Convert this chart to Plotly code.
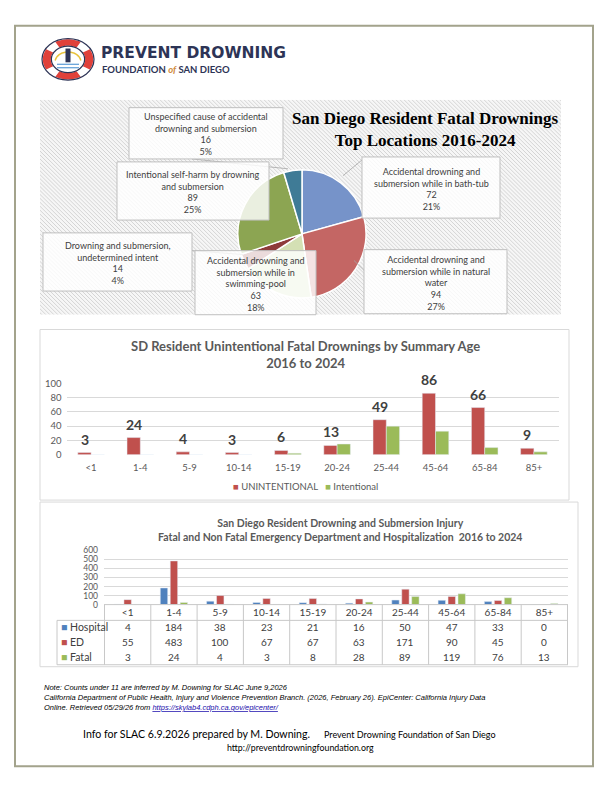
import base64
import numpy as np
import plotly.graph_objects as go

# the page body has an 8px margin, so the figure is 8px smaller and page
# coordinates are shifted by 8 when converted to paper units
PAD = 8
FW, FH = 612 - PAD, 792 - PAD

# ---- pie: top locations 2016-2024 ----
pie_labels = [
    "Accidental drowning and<br>submersion while in bath-tub",
    "Accidental drowning and<br>submersion while in natural<br>water",
    "Accidental drowning and<br>submersion while in<br>swimming-pool",
    "Drowning and submersion,<br>undetermined intent",
    "Intentional self-harm by drowning<br>and submersion",
    "Unspecified cause of accidental<br>drowning and submersion",
]
pie_values = [72, 94, 63, 14, 89, 16]
pie_pct = ["21%", "27%", "18%", "4%", "25%", "5%"]

# ---- bars: unintentional fatal drownings by age ----
age_groups = ["<1", "1-4", "5-9", "10-14", "15-19", "20-24", "25-44", "45-64", "65-84", "85+"]
unintentional = [3, 24, 4, 3, 6, 13, 49, 86, 66, 9]
intentional = [0, 0, 0, 0, 2, 15, 40, 33, 10, 4]

# ---- bars + table: injury by age ----
hospital = [4, 184, 38, 23, 21, 16, 50, 47, 33, 0]
ed = [55, 483, 100, 67, 67, 63, 171, 90, 45, 0]
fatal = [3, 24, 4, 3, 8, 28, 89, 119, 76, 13]

BLUE, RED, GREEN = "#4f81bd", "#c0504d", "#9bbb59"
GRID = "#d9d9d9"
FONT = "Lato"


def X(x):
    return (x - PAD) / FW


def Y(y):
    return 1 - (y - PAD) / FH


def rect(x0, y0, x1, y1, **kw):
    return dict(type="rect", xref="paper", yref="paper",
                x0=X(x0), x1=X(x1), y0=Y(y1), y1=Y(y0), **kw)


def seg(x0, y0, x1, y1, color="#a6a6a6", width=0.8):
    return dict(type="line", xref="paper", yref="paper",
                x0=X(x0), x1=X(x1), y0=Y(y0), y1=Y(y1),
                line=dict(color=color, width=width))


def text(x, y, s, size=9, color="#404040", anchor="center", family=FONT):
    return dict(x=X(x), y=Y(y), xref="paper", yref="paper", text=s,
                showarrow=False, xanchor=anchor, yanchor="middle",
                font=dict(size=size, color=color, family=family))


fig = go.Figure()

# pie
pie_colors = ["#7693c9", "#c46664", "#d4e0b4", "#8e3b3a", "#8ca552", "#3f7b96"]
fig.add_trace(go.Pie(
    labels=[l.replace("<br>", " ") for l in pie_labels], values=pie_values,
    sort=False, direction="clockwise", rotation=0,
    marker=dict(colors=pie_colors, line=dict(color="white", width=1.5)),
    textinfo="none", showlegend=False,
    domain=dict(x=[X(237), X(367)], y=[Y(296), Y(166)]),
))

# chart 2
fig.add_trace(go.Bar(
    x=age_groups, y=unintentional, name="UNINTENTIONAL", marker_color=RED,
    width=0.27, offset=-0.27, xaxis="x", yaxis="y",
))
fig.add_trace(go.Bar(
    x=age_groups, y=intentional, name="Intentional", marker_color=GREEN,
    width=0.27, offset=0, xaxis="x", yaxis="y",
))

# chart 3
for vals, name, col, off in [(hospital, "Hospital", BLUE, -0.295),
                             (ed, "ED", RED, -0.08),
                             (fatal, "Fatal", GREEN, 0.135)]:
    fig.add_trace(go.Bar(x=age_groups, y=vals, name=name, marker_color=col,
                         width=0.16, offset=off, xaxis="x2", yaxis="y2"))

shapes = []
annotations = []

# page border
shapes.append(rect(15, 20, 593, 771, line=dict(color="#a3a38c", width=2)))

# logo ring
cx, cy, rx, ry = 68, 54, 26, 21


def ring_path(a0, a1, k_out, k_in, n=24):
    t = np.radians(np.linspace(a0, a1, n))
    xs = np.concatenate([cx + rx * k_out * np.cos(t), cx + rx * k_in * np.cos(t[::-1])])
    ys = np.concatenate([cy - ry * k_out * np.sin(t), cy - ry * k_in * np.sin(t[::-1])])
    return "M" + " L".join(f"{X(a):.5f},{Y(b):.5f}" for a, b in zip(xs, ys)) + " Z"


for c in (90, 0, 180, 270):
    shapes.append(dict(type="path", xref="paper", yref="paper",
                       path=ring_path(c - 30, c + 30, 0.97, 0.66),
                       fillcolor="#e0413a", line=dict(width=0)))
for k in (1.0, 0.64):
    shapes.append(dict(type="circle", xref="paper", yref="paper",
                       x0=X(cx - rx * k), x1=X(cx + rx * k),
                       y0=Y(cy + ry * k), y1=Y(cy - ry * k),
                       line=dict(color="#2d3456", width=1.2)))
t = np.radians(np.linspace(10, 170, 20))
arc = "M" + " L".join(f"{X(cx + rx * 0.5 * np.cos(a)):.5f},{Y(cy + 3 - ry * 0.5 * np.sin(a)):.5f}" for a in t)
shapes.append(dict(type="path", xref="paper", yref="paper", path=arc,
                   line=dict(color="#e8c23a", width=1.5)))
for dy in (5, 8.5):
    shapes.append(seg(cx - 11, cy + dy, cx + 11, cy + dy, color="#5b9bd5", width=1.2))
shapes.append(rect(cx - 2.5, cy - 11, cx + 2.5, cy + 3, fillcolor="#2d3456", line=dict(width=0)))

annotations.append(text(99, 47.5, "<b>PREVENT DROWNING</b>", size=15.5, color="#2d3456",
                        anchor="left", family="DejaVu Sans"))
annotations.append(text(100, 64, "<b>FOUNDATION <span style='color:#d08a3c'><i>of</i></span> SAN DIEGO</b>",
                        size=9.5, color="#2d3456", anchor="left"))

# pie callout boxes
boxes = [(362, 153, 500, 215), (364, 247, 507, 312), (195, 248, 316, 313),
         (43, 230, 192, 289), (117, 158, 269, 217), (129, 103, 283, 155)]
shapes += [seg(192, 155, 288, 165), seg(362, 156, 343, 172),
           seg(192, 248, 243, 252), seg(364, 268, 354, 258)]
for (x0, y0, x1, y1), lab, v, p in zip(boxes, pie_labels, pie_values, pie_pct):
    shapes.append(rect(x0, y0, x1, y1, fillcolor="rgba(255,255,255,0.82)",
                       line=dict(color="#bfbfbf", width=1), layer="above"))
    annotations.append(text((x0 + x1) / 2, (y0 + y1) / 2 + 1, f"{lab}<br>{v}<br>{p}",
                            size=9, color="#404040"))
annotations.append(text(425, 125, "<b>San Diego Resident Fatal Drownings<br>Top Locations 2016-2024</b>",
                        size=17, color="#000000", family="Liberation Serif"))

# chart 2 frame, title, value labels, legend
shapes.append(rect(40, 328, 569, 501, line=dict(color=GRID, width=1), layer="below"))
annotations.append(text(305, 353, "<b>SD Resident Unintentional Fatal Drownings by Summary Age<br>2016 to 2024</b>",
                        size=13, color="#595959"))
for cat, v in zip(age_groups, unintentional):
    annotations.append(dict(x=cat, y=v, xref="x", yref="y", text=f"<b>{v}</b>",
                            showarrow=False, yanchor="bottom", xshift=-6.6, yshift=3,
                            font=dict(size=14, color="#404040", family=FONT)))
annotations.append(text(305, 487,
                        f"<span style='color:{RED}'>■</span> UNINTENTIONAL   "
                        f"<span style='color:{GREEN}'>■</span> Intentional",
                        size=9.5, color="#595959"))

# chart 3 frame + title
shapes.append(rect(40, 503, 578, 670, line=dict(color=GRID, width=1), layer="below"))
annotations.append(text(340, 531, "<b>San Diego Resident Drowning and Submersion Injury<br>"
                                  "Fatal and Non Fatal Emergency Department and Hospitalization  2016 to 2024</b>",
                        size=10.5, color="#595959"))

# chart 3 data table
TBL = "#c8c8c8"
shapes.append(seg(104, 607, 568, 607, color=TBL, width=1))
shapes.append(seg(57, 623, 568, 623, color=TBL, width=1))
shapes.append(seg(57, 668, 568, 668, color=TBL, width=1))
shapes.append(seg(57, 623, 57, 668, color=TBL, width=1))
for k in range(len(age_groups) + 1):
    shapes.append(dict(type="line", xref="x2", yref="paper", x0=k - 0.5, x1=k - 0.5,
                       y0=Y(668), y1=Y(607), line=dict(color=TBL, width=1)))
for vals, name, col, yy in [(hospital, "Hospital", BLUE, 630),
                            (ed, "ED", RED, 645),
                            (fatal, "Fatal", GREEN, 660)]:
    annotations.append(text(59, yy, f"<span style='color:{col}'>■</span> {name}",
                            size=10.5, anchor="left"))
    for cat, v in zip(age_groups, vals):
        annotations.append(dict(x=cat, xref="x2", y=Y(yy), yref="paper", text=str(v),
                                showarrow=False, yanchor="middle",
                                font=dict(size=10, color="#404040", family=FONT)))

# notes + footer
NOTE = "Liberation Sans"
annotations.append(text(42, 691, "<i>Note: Counts under 11 are inferred by M. Downing for SLAC June 9,2026</i>",
                        size=7.5, color="#000", anchor="left", family=NOTE))
annotations.append(text(42, 701, "<i>California Department of Public Health, Injury and Violence Prevention Branch. "
                                 "(2026, February 26). EpiCenter: California Injury Data</i>",
                        size=7.5, color="#000", anchor="left", family=NOTE))
annotations.append(text(42, 711, "<i>Online. Retrieved 05/29/26 from "
                                 "<span style='color:#1a0dab'><u>https://skylab4.cdph.ca.gov/epicenter/</u></span></i>",
                        size=7.5, color="#000", anchor="left", family=NOTE))
annotations.append(text(81, 738, "Info for SLAC 6.9.2026 prepared by M. Downing.", size=10.6,
                        color="#000", anchor="left"))
annotations.append(text(322, 738.5, "Prevent Drowning Foundation of San Diego", size=9,
                        color="#000", anchor="left"))
annotations.append(text(300, 752, "http://preventdrowningfoundation.org", size=8.8, color="#000"))

# hatched backdrop for the pie panel
hatch = ("<svg xmlns='http://www.w3.org/2000/svg' width='521' height='218'>"
         "<defs><pattern id='h' width='4' height='4' patternUnits='userSpaceOnUse'>"
         "<rect width='4' height='4' fill='#f6f6f6'/>"
         "<path d='M-1,3 l2,2 M0,0 l4,4 M3,-1 l2,2' stroke='#d4d4d4' stroke-width='1'/>"
         "</pattern></defs><rect width='521' height='218' fill='url(#h)'/></svg>")
hatch_src = "data:image/svg+xml;base64," + base64.b64encode(hatch.encode()).decode()

axis_font = dict(size=9.5, color="#595959", family=FONT)
fig.update_layout(
    width=FW, height=FH, margin=dict(l=0, r=0, t=0, b=0),
    paper_bgcolor="white", plot_bgcolor="white",
    font=dict(family=FONT, color="#404040"),
    barmode="overlay", showlegend=False,
    xaxis=dict(domain=[X(66.5), X(558.5)], anchor="y", tickfont=axis_font,
               showline=False, ticks="", ticklabelstandoff=6),
    yaxis=dict(domain=[Y(455), Y(382.5)], anchor="x", range=[0, 100], dtick=20,
               gridcolor=GRID, zeroline=False, tickfont=axis_font, ticklabelstandoff=4),
    xaxis2=dict(domain=[X(104), X(568)], anchor="y2", tickfont=dict(size=10, color="#404040", family=FONT),
                showline=False, ticks=""),
    yaxis2=dict(domain=[Y(607), Y(552)], anchor="x2", range=[0, 600], dtick=100,
                gridcolor=GRID, zeroline=False, tickfont=dict(size=8.5, color="#595959", family=FONT),
                ticklabelstandoff=5),
    shapes=shapes,
    annotations=annotations,
    images=[dict(source=hatch_src, xref="paper", yref="paper", x=X(40), y=Y(95),
                 sizex=521 / FW, sizey=218 / FH, sizing="stretch",
                 xanchor="left", yanchor="top", layer="below")],
)

fig.write_html("out.html")
